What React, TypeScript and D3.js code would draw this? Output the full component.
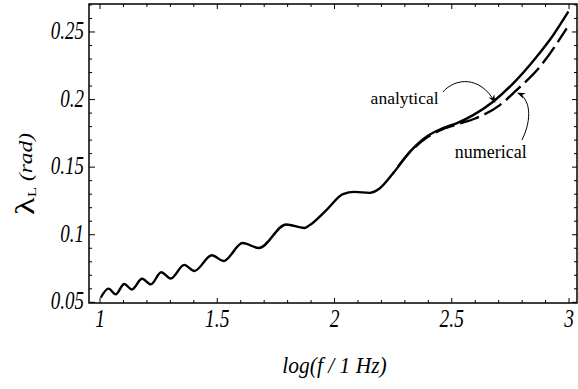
import React from 'react';
import * as d3 from 'd3';

// analytical curve (solid)
const analyticalX = [1.003, 1.036, 1.067, 1.103, 1.136, 1.179, 1.217, 1.261, 1.302, 1.359, 1.402, 1.477, 1.527, 1.608, 1.677, 1.794, 1.871, 1.893, 1.964, 2.036, 2.085, 2.15, 2.192, 2.249, 2.321, 2.392, 2.46, 2.52, 2.591, 2.676, 2.762, 2.862, 2.933, 2.997];
const analyticalY = [0.0534, 0.0601, 0.0559, 0.0636, 0.0595, 0.0674, 0.0633, 0.0723, 0.0676, 0.0777, 0.0732, 0.0848, 0.0806, 0.0939, 0.0902, 0.1076, 0.1050, 0.1070, 0.1180, 0.1300, 0.1317, 0.1310, 0.1342, 0.1453, 0.1613, 0.1725, 0.1787, 0.1824, 0.1885, 0.1984, 0.2120, 0.2317, 0.2478, 0.2650];

// numerical curve (dashed), only where it leaves the analytical one
const numericalX = [2.249, 2.321, 2.392, 2.46, 2.53, 2.6, 2.705, 2.776, 2.876, 2.99];
const numericalY = [0.1453, 0.1610, 0.1718, 0.1780, 0.1820, 0.1860, 0.1959, 0.2070, 0.2243, 0.2527];

const xMajor = [1, 1.5, 2, 2.5, 3];
const xMajorLabels = ['1', '1.5', '2', '2.5', '3'];
const yMajor = [0.05, 0.1, 0.15, 0.2, 0.25];
const yMajorLabels = ['0.05', '0.1', '0.15', '0.2', '0.25'];

// annotation arrows in data coords
const analyticalArrow = [[2.462, 0.2056], [2.513, 0.2159], [2.62, 0.2181], [2.684, 0.1981]];
const numericalArrow = [[2.799, 0.170], [2.846, 0.1863], [2.833, 0.2011], [2.782, 0.2048]];

const W = 578;
const H = 389;
const FONT = '"Liberation Serif", "Times New Roman", serif';
const STRETCH = 1.3; // the scan's lettering is taller than wide

export default function App() {
  const x = d3.scaleLinear().domain([0.953, 3.034]).range([89, 577]);
  const y = d3.scaleLinear().domain([0.0495, 0.2707]).range([303, 4]);
  const [x0, x1] = x.range();
  const [y0, y1] = y.range();

  const line = d3.line<number[]>()
    .x(d => x(d[0]))
    .y(d => y(d[1]))
    .curve(d3.curveMonotoneX);

  const analytical = analyticalX.map((v, i) => [v, analyticalY[i]]);
  const numerical = numericalX.map((v, i) => [v, numericalY[i]]);

  const xMinor = d3.range(0, 21).map(i => 1 + i * 0.1);
  const yMinor = d3.range(0, 23).map(i => 0.05 + i * 0.01);

  const isMajor = (v: number, arr: number[]) => arr.some(m => Math.abs(m - v) < 1e-6);

  const arrowPath = (pts: number[][]) => {
    const p = pts.map(d => [x(d[0]), y(d[1])]);
    return `M${p[0][0]},${p[0][1]} C${p[1][0]},${p[1][1]} ${p[2][0]},${p[2][1]} ${p[3][0]},${p[3][1]}`;
  };

  return (
    <svg width={W} height={H} style={{ position: 'absolute', left: 0, top: 0, background: '#fff' }} fontFamily={FONT}>
      <defs>
        <marker id="ah" viewBox="0 0 10 10" refX="9" refY="5" markerWidth="8" markerHeight="8" orient="auto" markerUnits="userSpaceOnUse">
          <path d="M0,1 L10,5 L0,9 L3,5 Z" fill="#000" />
        </marker>
      </defs>

      {/* curves */}
      <path d={line(analytical) || ''} fill="none" stroke="#000" strokeWidth={2.4} />
      <path d={line(numerical) || ''} fill="none" stroke="#000" strokeWidth={2.4} strokeDasharray="20,6" strokeDashoffset={-8} />

      {/* frame */}
      <rect x={x0} y={y1} width={x1 - x0} height={y0 - y1} fill="none" stroke="#000" strokeWidth={1.5} />

      {/* x ticks bottom & top */}
      {xMinor.map((v, i) => {
        const m = isMajor(v, xMajor);
        return (
          <g key={'xt' + i}>
            <line x1={x(v)} x2={x(v)} y1={y0} y2={y0 - (m ? 5 : 3)} stroke="#000" strokeWidth={1} />
            <line x1={x(v)} x2={x(v)} y1={y1} y2={y1 + (m ? 5 : 3)} stroke="#000" strokeWidth={1} />
          </g>
        );
      })}
      {/* y ticks left & right */}
      {yMinor.map((v, i) => {
        const m = isMajor(v, yMajor);
        return (
          <g key={'yt' + i}>
            <line x1={x0} x2={x0 + (m ? 6 : 3)} y1={y(v)} y2={y(v)} stroke="#000" strokeWidth={1} />
            <line x1={x1} x2={x1 - (m ? 5 : 3)} y1={y(v)} y2={y(v)} stroke="#000" strokeWidth={1} />
          </g>
        );
      })}

      {/* tick labels */}
      {xMajor.map((v, i) => (
        <text key={'xl' + i} transform={`translate(${x(v)},327) scale(1,${STRETCH})`} textAnchor="middle" fontSize={19.5} fontStyle="italic">{xMajorLabels[i]}</text>
      ))}
      {yMajor.map((v, i) => (
        <text key={'yl' + i} transform={`translate(84,${y(v) + 7}) scale(1,${STRETCH})`} textAnchor="end" fontSize={19} fontStyle="italic">{yMajorLabels[i]}</text>
      ))}

      {/* axis titles */}
      <text transform={`translate(${x(2)},373) scale(1,1.1)`} textAnchor="middle" fontSize={21.5} fontStyle="italic">log(f / 1 Hz)</text>
      <text transform={`translate(34,174) rotate(-90) scale(${STRETCH},1)`} textAnchor="middle">
        <tspan fontSize={28}>λ</tspan>
        <tspan fontSize={13} dy={2}>L</tspan>
        <tspan fontSize={18} fontStyle="italic" dy={-4}> (rad)</tspan>
      </text>

      {/* annotations */}
      <text x={x(2.444)} y={y(0.1967)} textAnchor="end" fontSize={17.5}>analytical</text>
      <text x={x(2.513)} y={y(0.1567)} textAnchor="start" fontSize={18}>numerical</text>
      <path d={arrowPath(analyticalArrow)} fill="none" stroke="#000" strokeWidth={1} markerEnd="url(#ah)" />
      <path d={arrowPath(numericalArrow)} fill="none" stroke="#000" strokeWidth={1} markerEnd="url(#ah)" />
    </svg>
  );
}
